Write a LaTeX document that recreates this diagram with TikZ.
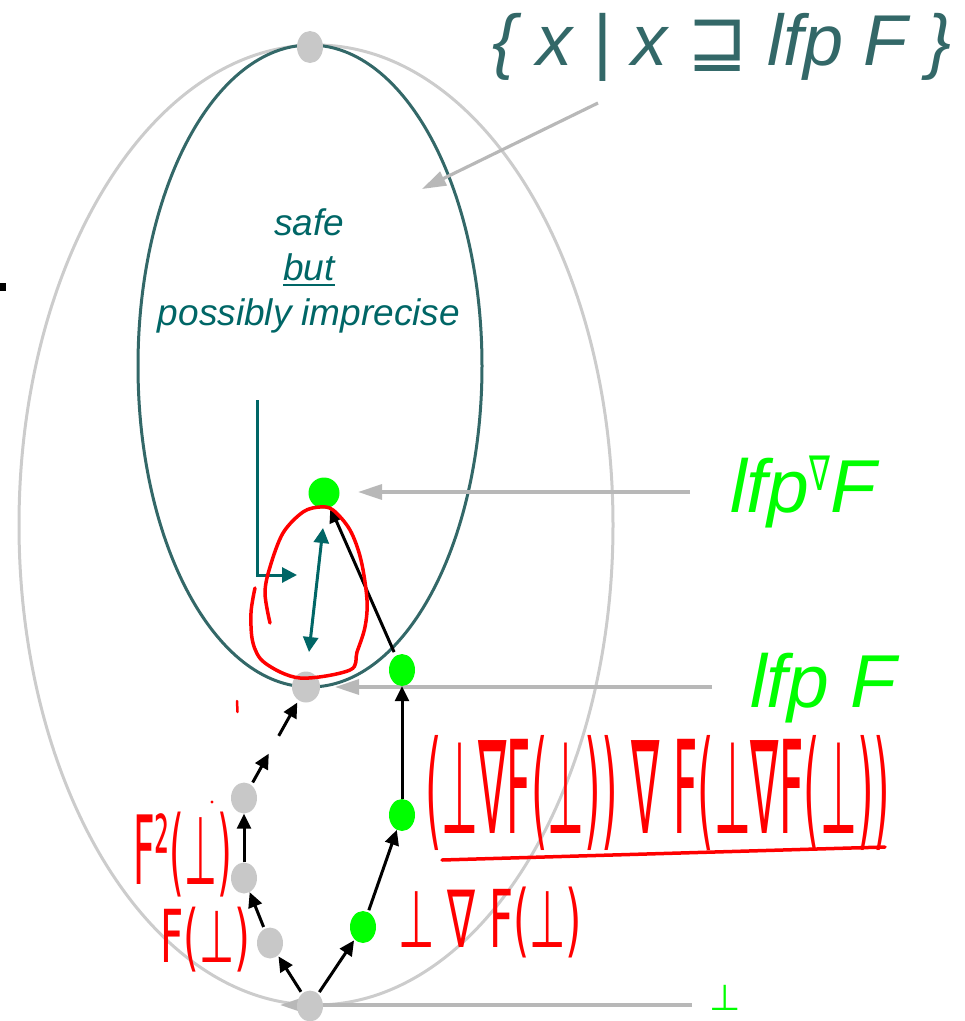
\documentclass[tikz,border=0pt]{standalone}
\usepackage{fontspec}
\usepackage{graphicx}
\setmainfont{Liberation Sans}
\newfontfamily\dejavu{DejaVu Sans}
\usetikzlibrary{shapes.geometric,arrows.meta,calc}
\definecolor{tealc}{RGB}{51,104,104}
\definecolor{tealt}{RGB}{0,102,102}
\definecolor{outergray}{RGB}{204,204,204}
\definecolor{dotgray}{RGB}{200,200,200}
\definecolor{ptrgray}{RGB}{184,184,184}
\definecolor{lgreen}{RGB}{0,255,0}
\definecolor{hwred}{RGB}{255,0,0}
\tikzset{
  grayell/.style={draw=outergray,line width=3pt},
  tealell/.style={draw=tealc,line width=3pt},
  gdot/.style={ellipse,fill=dotgray,minimum width=26pt,minimum height=31pt,inner sep=0pt},
  grdot/.style={ellipse,fill=lgreen,minimum width=26pt,minimum height=32pt,inner sep=0pt},
  blk/.style={draw=black,line width=3pt,-{Triangle[length=15pt,width=14pt]}},
  ptr/.style={draw=ptrgray,line width=3.2pt,-{Triangle[length=24pt,width=15pt]}},
  tarr/.style={draw=tealt,line width=3pt,-{Triangle[length=15pt,width=15pt]}},
  tdbl/.style={draw=tealt,line width=3pt,{Triangle[length=15pt,width=15pt]}-{Triangle[length=15pt,width=15pt]}},
  hw/.style={anchor=north west,inner sep=0pt,text=hwred},
  redline/.style={draw=hwred,line width=3.5pt,line cap=round,line join=round},
}
\begin{document}
\begin{tikzpicture}[x=1pt,y=-1pt]
\useasboundingbox (0,0) rectangle (965,1021);
% ellipses
\draw[grayell] (316,525) ellipse [x radius=297pt,y radius=480pt];
\draw[tealell] (310,366) ellipse [x radius=172pt,y radius=321pt];
% black mark at left
\fill[black] (0,283) rectangle (6,291);
% pointer arrows (drawn beneath dots)
\coordinate (ptopS) at (598,103);
\coordinate (ptopE) at (422,189);
\coordinate (pwS) at (690,492);
\coordinate (pwE) at (358,492);
\coordinate (pfS) at (712,687);
\coordinate (pfE) at (335,687);
\coordinate (pbS) at (692,1005);
\coordinate (pbE) at (280,1005);
\draw[ptr] (ptopS) -- (ptopE);
\draw[ptr] (pwS) -- (pwE);
\draw[ptr] (pfS) -- (pfE);
\draw[ptr] (pbS) -- (pbE);
% dots
\node[gdot,minimum height=32pt] (top) at (310,47) {};
\node[grdot,minimum width=31pt,minimum height=31pt] (lfpw) at (324,493) {};
\node[gdot,minimum width=28pt] (lfpF) at (306,687) {};
\node[grdot] (v3) at (402,670) {};
\node[grdot] (v2) at (402,815) {};
\node[grdot] (v1) at (363,927) {};
\node[gdot] (g3) at (244,798) {};
\node[gdot] (g2) at (244,878) {};
\node[gdot] (g1) at (270,943) {};
\node[gdot] (bot) at (310,1006) {};
% black arrows
\draw[blk,shorten <=2pt,shorten >=1pt] (bot) -- (g1);
\draw[blk,shorten <=2pt,shorten >=1pt] (bot) -- (v1);
\draw[blk,shorten <=2pt] (g1) -- (g2);
\draw[blk] (g2) -- (g3);
\draw[blk] ($(g3)!0.14!(lfpF)$) -- ($(g3)!0.40!(lfpF)$);
\draw[blk] ($(g3)!0.56!(lfpF)$) -- ($(g3)!0.86!(lfpF)$);
\draw[blk,shorten <=2pt] (v1) -- (v2);
\draw[blk] (v2) -- (v3);
\draw[blk,shorten <=4pt] (v3) -- (lfpw);
% teal bracket and double arrow
\coordinate (brA) at (257,400);
\coordinate (brB) at (297,575);
\draw[tarr] (brA) |- (brB);
\coordinate (daA) at (323,528);
\coordinate (daB) at (309,652);
\draw[tdbl] (daA) -- (daB);
% red loop
\draw[redline] plot[smooth,tension=0.55] coordinates {(255,588) (251,613) (253,643) (265,663) (300,678) (350,670) (357,652) (365,627) (367,600) (361,560) (350,530) (333,510) (320,507) (303,512) (283,533) (270,567) (265,593) (270,623)};
% red small marks
\draw[redline,line width=2.5pt] (237,701) -- (237.5,712);
\fill[hwred] (212,802) circle (1.6pt);
% texts
\node[anchor=base,text=tealc,inner sep=0pt] (settxt) at (722,65) {\fontsize{72}{80}\selectfont\itshape \{ x | x {\dejavu ⊒} lfp F \}};
\node[anchor=base,text=tealt,inner sep=0pt] (safe) at (309,235) {\fontsize{37}{40}\selectfont\itshape safe};
\node[anchor=base,text=tealt,inner sep=0pt] (but) at (309,280) {\fontsize{37}{40}\selectfont\itshape but};
\draw[tealt,line width=2pt] ($(but.base west)+(0,5)$) -- ($(but.base east)+(0,5)$);
\node[anchor=base,text=tealt,inner sep=0pt] (imp) at (309,325) {\fontsize{37}{40}\selectfont\itshape possibly imprecise};
\node[anchor=base west,text=lgreen,inner sep=0pt] (lblw) at (730,512) {\fontsize{75}{80}\selectfont\itshape lfp\raisebox{22pt}{\scalebox{0.65}[1]{\dejavu\fontsize{48}{48}\selectfont ∇}}F};
\node[anchor=base west,text=lgreen,inner sep=0pt] (lblf) at (750,707) {\fontsize{75}{80}\selectfont\itshape lfp F};
\node[anchor=base,text=lgreen,inner sep=0pt] (lblb) at (725,1010) {\dejavu\fontsize{36}{36}\selectfont ⊥};
% handwritten labels
\node[hw] (hwbig) at (425,735) {\resizebox*{465pt}{115pt}{\dejavu (⊥∇F(⊥)) ∇ F(⊥∇F(⊥))}};
\draw[redline] (442,860) -- (885,847);
\node[hw] (hwa) at (398,887) {\resizebox*{184pt}{71pt}{\dejavu ⊥ ∇ F(⊥)}};
\node[hw] (hwb) at (133,812) {\resizebox*{99pt}{85pt}{\dejavu F²(⊥)}};
\node[hw] (hwc) at (160,907) {\resizebox*{90pt}{65pt}{\dejavu F(⊥)}};
\end{tikzpicture}
\end{document}
